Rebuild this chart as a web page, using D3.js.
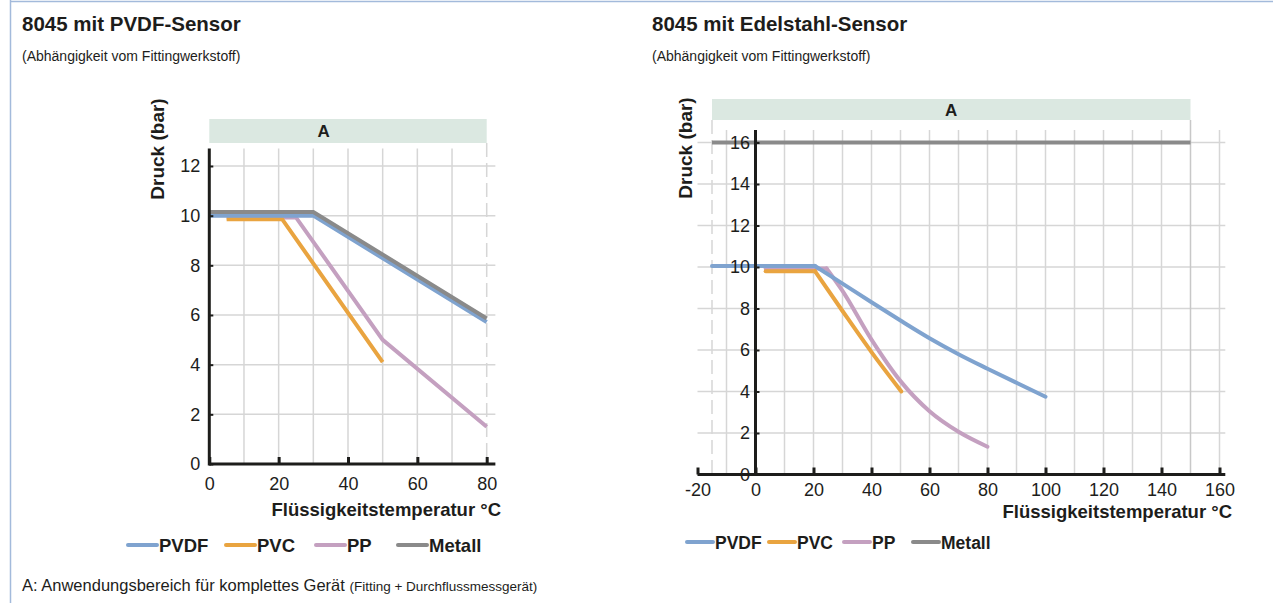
<!DOCTYPE html>
<html lang="de">
<head>
<meta charset="UTF-8">
<title>8045 Druck-Temperatur</title>
<script src="https://cdn.jsdelivr.net/npm/d3@7"></script>
<style>
  body { margin: 0; background: #fff; }
  svg { display: block; font-family: "Liberation Sans", Arial, Helvetica, sans-serif; }
</style>
</head>
<body>
<script>
// series names and colours
const seriesNames = ["PVDF", "PVC", "PP", "Metall"];
const seriesColors = ["#7fa3cf", "#e9a440", "#c4a0c0", "#8a8a8a"];

// left chart: 8045 mit PVDF-Sensor  [temperature °C, pressure bar]
const leftPVDF = [[0, 10.0], [30, 10.0], [80, 5.72]];
const leftPVC = [[5, 9.86], [21, 9.86], [50, 4.1]];
const leftPP = [[5, 9.93], [25, 9.93], [50, 5.0], [80, 1.5]];
const leftMetall = [[0, 10.15], [30, 10.15], [80, 5.86]];
const leftXTicks = [0, 20, 40, 60, 80];
const leftYTicks = [0, 2, 4, 6, 8, 10, 12];
const leftBand = [0, 80];

// right chart: 8045 mit Edelstahl-Sensor
const rightPVDF = [[-15, 10.05], [20.5, 10.05], [30, 9.2], [40, 8.3], [50, 7.42], [60, 6.57], [70, 5.8], [80, 5.1], [90, 4.42], [100, 3.75]];
const rightPVC = [[3.5, 9.8], [20.5, 9.8], [30, 7.88], [40, 5.9], [50.3, 4.0]];
const rightPP = [[3.5, 9.93], [24.5, 9.93], [30, 8.85], [40, 6.5], [50, 4.5], [60, 3.05], [70, 2.06], [80, 1.34]];
const rightMetall = [[-15, 16], [150, 16]];
const rightXTicks = [-20, 0, 20, 40, 60, 80, 100, 120, 140, 160];
const rightYTicks = [0, 2, 4, 6, 8, 10, 12, 14, 16];
const rightBand = [-15, 150];

const W = 1273, H = 603;
const svg = d3.select("body").append("svg").attr("width", W).attr("height", H);
svg.append("rect").attr("width", W).attr("height", H).attr("fill", "#fff");

// frame lines
svg.append("line").attr("x1", 10.5).attr("x2", 10.5).attr("y1", 0).attr("y2", H)
    .attr("stroke", "#a3badb").attr("stroke-width", 1.5);
svg.append("line").attr("x1", 10).attr("x2", W).attr("y1", 1.5).attr("y2", 1.5)
    .attr("stroke", "#a3badb").attr("stroke-width", 1.5);

const ink = "#1d1d1b";

function drawChart(o) {
    const g = svg.append("g");
    const x = o.x, y = o.y;

    // titles
    g.append("text").attr("x", o.titleX).attr("y", 31).attr("font-size", 20.5).attr("font-weight", "bold")
        .attr("fill", ink).text(o.title);
    g.append("text").attr("x", o.titleX).attr("y", 61).attr("font-size", 14)
        .attr("fill", ink).text("(Abhängigkeit vom Fittingwerkstoff)");

    // band A
    g.append("rect").attr("x", x(o.band[0])).attr("y", o.bandTop)
        .attr("width", x(o.band[1]) - x(o.band[0])).attr("height", o.bandH)
        .attr("fill", "#dbe8e1");
    g.append("text").attr("x", x(o.aPos)).attr("y", o.bandTop + o.bandH / 2 + 6)
        .attr("text-anchor", "middle").attr("font-size", 17).attr("font-weight", "bold")
        .attr("fill", ink).text("A");

    // grid
    const grid = g.append("g").attr("stroke", "#d6d6d6").attr("stroke-width", 1.5);
    grid.selectAll(".v").data(o.vGrid).join("line")
        .attr("x1", d => x(d)).attr("x2", d => x(d))
        .attr("y1", y(o.yTop)).attr("y2", y(0));
    grid.selectAll(".h").data(o.yTicks.filter(d => d > 0)).join("line")
        .attr("x1", x(o.xStart)).attr("x2", x(o.xEnd))
        .attr("y1", d => y(d)).attr("y2", d => y(d));
    grid.selectAll(".d").data(o.dashed).join("line")
        .attr("x1", d => x(d)).attr("x2", d => x(d))
        .attr("y1", o.bandTop + o.bandH).attr("y2", y(0))
        .attr("stroke-dasharray", "14,6");
    if (o.edge !== undefined) {
        grid.append("line").attr("x1", x(o.edge)).attr("x2", x(o.edge))
            .attr("y1", o.bandTop + o.bandH).attr("y2", y(0)).attr("stroke", "#c8c8c8");
    }

    // series: flat part straight, falling part straight or smoothed
    const straight = d3.line().x(d => x(d[0])).y(d => y(d[1]));
    const smooth = d3.line().x(d => x(d[0])).y(d => y(d[1])).curve(d3.curveMonotoneX);
    const order = [2, 1, 0, 3];
    order.forEach(i => {
        const pts = o.series[i];
        const parts = (o.smooth && pts.length > 3) ? [pts.slice(0, 2), pts.slice(1)] : [pts];
        parts.forEach((p, k) => {
            g.append("path").datum(p).attr("d", k === 1 ? smooth : straight)
                .attr("fill", "none").attr("stroke", seriesColors[i])
                .attr("stroke-width", 4).attr("stroke-linejoin", "miter")
                .attr("stroke-linecap", parts.length > 1 ? "round" : "butt");
        });
    });

    // axes
    const xAxis = g.append("g").attr("transform", `translate(0,${y(0)})`)
        .call(d3.axisBottom(x).tickValues(o.xTicks).tickFormat(d => String(d))
            .tickSizeInner(-7).tickSizeOuter(0).tickPadding(o.xPad));
    xAxis.select(".domain").remove();
    xAxis.attr("font-family", null);
    xAxis.selectAll(".tick line").attr("stroke", ink).attr("stroke-width", 3);
    xAxis.selectAll(".tick text").attr("font-size", 18).attr("fill", ink);
    g.append("line").attr("x1", x(o.xStart)).attr("x2", x(o.xEnd))
        .attr("y1", y(0)).attr("y2", y(0)).attr("stroke", ink).attr("stroke-width", 3);

    const yAxis = g.append("g").attr("transform", `translate(${x(0)},0)`)
        .call(d3.axisLeft(y).tickValues(o.yTicks).tickSizeInner(-4).tickSizeOuter(0).tickPadding(o.yPad));
    yAxis.select(".domain").remove();
    yAxis.attr("font-family", null);
    yAxis.selectAll(".tick line").attr("stroke", ink).attr("stroke-width", 2);
    yAxis.selectAll(".tick text").attr("font-size", 18).attr("fill", ink);
    g.append("line").attr("x1", x(0)).attr("x2", x(0))
        .attr("y1", y(o.yTop)).attr("y2", y(0) + 1.5).attr("stroke", ink).attr("stroke-width", 3);

    // axis titles
    g.append("text").attr("transform", `translate(${o.yLabelX},${o.yLabelY}) rotate(-90)`)
        .attr("text-anchor", "middle").attr("font-size", 19).attr("font-weight", "bold")
        .attr("fill", ink).text("Druck (bar)");
    g.append("text").attr("x", o.xLabelX).attr("y", o.xLabelY)
        .attr("text-anchor", "end").attr("font-size", 18.5).attr("font-weight", "bold")
        .attr("fill", ink).text("Flüssigkeitstemperatur °C");

    // legend
    const leg = g.append("g").attr("transform", `translate(0,${o.legendY})`);
    seriesNames.forEach((name, i) => {
        const lx = o.legendX[i];
        leg.append("line").attr("x1", lx).attr("x2", lx + o.legendLen).attr("y1", 0).attr("y2", 0)
            .attr("stroke", seriesColors[i]).attr("stroke-width", 4).attr("stroke-linecap", "round");
        leg.append("text").attr("x", lx + o.legendLen + 2).attr("y", 7).attr("font-size", o.legendFont)
            .attr("font-weight", "bold").attr("fill", ink).text(name);
    });
}

const xL = d3.scaleLinear().domain([0, 80]).range([209.3, 486.7]);
const yL = d3.scaleLinear().domain([0, 12]).range([464, 166]);
drawChart({
    x: xL, y: yL, title: "8045 mit PVDF-Sensor", titleX: 22,
    band: leftBand, bandTop: 119, bandH: 24, aPos: 33,
    yTop: 12.7, xStart: 0, xEnd: 82.5,
    vGrid: [10, 20, 30, 40, 50, 60, 70], dashed: [80],
    xTicks: leftXTicks, yTicks: leftYTicks, xPad: 13, yPad: 9, smooth: false,
    series: [leftPVDF, leftPVC, leftPP, leftMetall],
    yLabelX: 164, yLabelY: 149, xLabelX: 501, xLabelY: 516,
    legendY: 545, legendX: [128, 226, 316, 398], legendLen: 29, legendFont: 18.5
});

const xR = d3.scaleLinear().domain([-20, 160]).range([697.5, 1219.5]);
const yR = d3.scaleLinear().domain([0, 16]).range([474.5, 142.5]);
drawChart({
    x: xR, y: yR, title: "8045 mit Edelstahl-Sensor", titleX: 652,
    band: rightBand, bandTop: 99, bandH: 21, aPos: 67.5,
    yTop: 16.6, xStart: -20, xEnd: 162,
    vGrid: [-10, 10, 20, 30, 40, 50, 60, 70, 80, 90, 100, 110, 120, 130, 140, 160], dashed: [-15],
    edge: 150,
    xTicks: rightXTicks, yTicks: rightYTicks, xPad: 9, yPad: 5.5, smooth: true,
    series: [rightPVDF, rightPVC, rightPP, rightMetall],
    yLabelX: 692, yLabelY: 148, xLabelX: 1232, xLabelY: 518,
    legendY: 542, legendX: [687, 769, 844, 913], legendLen: 26, legendFont: 17.5
});

// footnote
const foot = svg.append("text").attr("x", 22).attr("y", 591).attr("fill", ink);
foot.append("tspan").attr("font-size", 16.5).text("A: Anwendungsbereich für komplettes Gerät ");
foot.append("tspan").attr("font-size", 13.5).text("(Fitting + Durchflussmessgerät)");
</script>
</body>
</html>
